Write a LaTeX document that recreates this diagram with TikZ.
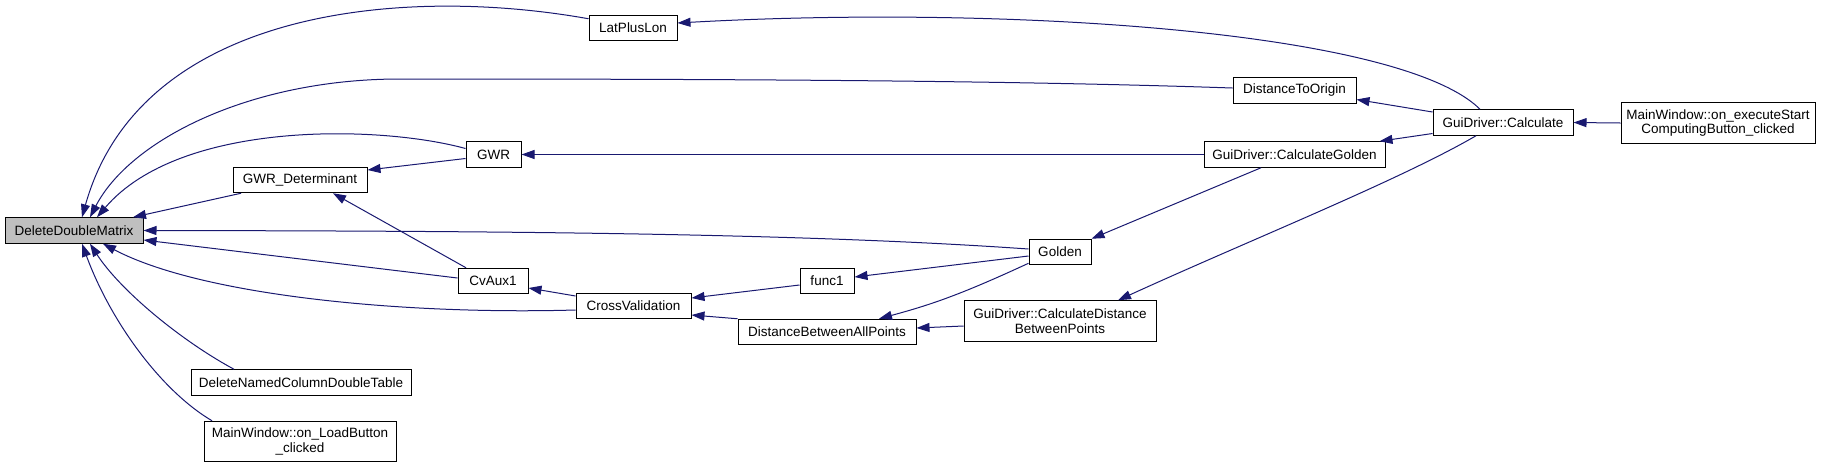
\documentclass[tikz,border=0pt]{standalone}
\usepackage{fontspec}
\setmainfont{Liberation Sans}
\usetikzlibrary{arrows.meta}
\definecolor{edgeblue}{HTML}{191970}
\definecolor{focusgrey}{HTML}{BFBFBF}

\begin{document}
\begin{tikzpicture}[
  x=1pt,y=-1pt,
  font=\fontsize{13.5}{14.5}\selectfont,
  fn/.style={draw=black,fill=white,line width=1pt,inner sep=0pt,
    minimum height=25.5pt,minimum width=#1,align=center},
  fntwo/.style={fn=#1,minimum height=40.5pt},
  focus/.style={fn=#1,fill=focusgrey},
  call/.style={{Triangle[length=13pt,width=9pt]}-,line width=1pt,
    draw=edgeblue}
]
\useasboundingbox (0,0) rectangle (1827,467);

\node[focus=138] (ddm) at (74,230.5) {DeleteDoubleMatrix};
\node[fn=88] (latpluslon) at (633,28) {LatPlusLon};
\node[fn=123] (dto) at (1294.5,90.5) {DistanceToOrigin};
\node[fn=55] (gwr) at (493.5,154.5) {GWR};
\node[fn=134] (gwrdet) at (300,180) {GWR\_Determinant};
\node[fn=181] (calcgolden) at (1294.5,154.5) {GuiDriver::CalculateGolden};
\node[fn=140] (calc) at (1503,122.5) {GuiDriver::Calculate};
\node[fntwo=194] (exec) at (1718,123)
  {MainWindow::on\_executeStart\\ComputingButton\_clicked};
\node[fn=62] (golden) at (1060,252) {Golden};
\node[fn=54] (func1) at (827,281) {func1};
\node[fn=70] (cvaux1) at (493,281) {CvAux1};
\node[fn=115] (crossval) at (633.5,306) {CrossValidation};
\node[fn=178] (dbap) at (827,332) {DistanceBetweenAllPoints};
\node[fntwo=192] (cdbp) at (1060,321)
  {GuiDriver::CalculateDistance\\BetweenPoints};
\node[fn=220] (dncdt) at (301,382.5) {DeleteNamedColumnDoubleTable};
\node[fntwo=192] (loadbtn) at (300,441.5) {MainWindow::on\_LoadButton\\\_clicked};

% callers of DeleteDoubleMatrix
\draw[call] ([xshift=8]ddm.north) .. controls (140,10) and (400,-15)
  .. ([yshift=-4]latpluslon.north west);
\draw[call] ([xshift=16]ddm.north) .. controls (130,140) and (250,79)
  .. (400,79) .. controls (700,79) and (1000,80) .. ([yshift=2.5]dto.west);
\draw[call] ([xshift=23]ddm.north) .. controls (180,120) and (380,125)
  .. ([yshift=6]gwr.west);
\draw[call] ([xshift=59]ddm.north) -- ([xshift=-59]gwrdet.south);
\draw[call] (ddm.east) .. controls (500,231) and (800,233)
  .. ([yshift=3]golden.west);
\draw[call] ([yshift=-9.5]ddm.east) -- ([yshift=3]cvaux1.west);
\draw[call] ([xshift=29]ddm.south) .. controls (200,295) and (400,315)
  .. ([yshift=-4]crossval.west);
\draw[call] ([xshift=16]ddm.south) .. controls (120,290) and (180,340)
  .. ([xshift=-67]dncdt.north);
\draw[call] ([xshift=8]ddm.south) .. controls (110,320) and (160,390)
  .. ([xshift=-88]loadbtn.north);

% inner call chains
\draw[call] ([yshift=10]gwrdet.east) -- ([yshift=-4]gwr.west);
\draw[call] ([xshift=33]gwrdet.south) -- ([xshift=-27]cvaux1.north);
\draw[call] ([yshift=-7]cvaux1.east) -- ([yshift=10]crossval.west);
\draw[call] ([yshift=8]crossval.east) -- ([yshift=-4]func1.west);
\draw[call] ([yshift=-9]crossval.east) -- (dbap.north west);
\draw[call] ([yshift=4]func1.east) -- ([yshift=-4]golden.west);
\draw[call] ([xshift=52]dbap.north) .. controls (930,305) and (960,295)
  .. ([yshift=2]golden.south west);
\draw[call] ([yshift=4]dbap.east) -- ([yshift=-5]cdbp.west);
\draw[call] (golden.north east) -- ([xshift=-33.5]calcgolden.south);
\draw[call] (gwr.east) -- (calcgolden.west);
\draw[call] ([xshift=85]calcgolden.north) -- ([yshift=-11]calc.west);
\draw[call] ([yshift=-9]dto.east) -- ([yshift=10.5]calc.west);
\draw[call] ([yshift=5]latpluslon.east) .. controls (1000,5) and (1400,30)
  .. ([xshift=-23]calc.north);
\draw[call] ([xshift=58]cdbp.north) .. controls (1250,240) and (1400,180)
  .. ([xshift=-27]calc.south);
\draw[call] (calc.east) -- (exec.west);
\end{tikzpicture}
\end{document}
